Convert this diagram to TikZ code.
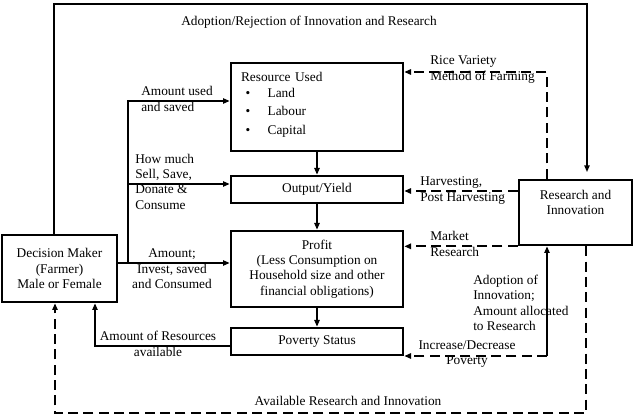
\documentclass[tikz,border=0pt]{standalone}
\usepackage{fontspec}
\setmainfont{Liberation Serif}
\usetikzlibrary{arrows.meta}
\begin{document}
\begin{tikzpicture}[x=0.75pt,y=-0.75pt,>={Triangle[length=5pt,width=4pt]},
  font=\fontsize{10}{11.5}\selectfont,
  box/.style={draw,line width=2pt,inner sep=0pt,align=center},
  lbl/.style={inner sep=0pt},
  link/.style={line width=1.1pt},
  dsh/.style={line width=1.3pt,dash pattern=on 7.5pt off 4pt}]
  \useasboundingbox (0,0) rectangle (640,416);
  % boxes
  \node[box,minimum width=86.25pt,minimum height=50.25pt] (dm) at (59.5,268.5) {Decision Maker\\(Farmer)\\Male or Female};
  \node[box,minimum width=129pt,minimum height=66pt,align=left,text width=114pt] (res) at (317,107)
    {Resource Used\\[0.5pt]
     \hspace*{3.5pt}\textbullet\hspace{13pt}Land\\[2.7pt]
     \hspace*{3.5pt}\textbullet\hspace{13pt}Labour\\[2.7pt]
     \hspace*{3.5pt}\textbullet\hspace{13pt}Capital\\[-6pt]~};
  \node[box,minimum width=129pt,minimum height=20.25pt] (out) at (317,189.5) {Output/Yield};
  \node[box,minimum width=129pt,minimum height=57pt] (prof) at (317,269) {Profit\\(Less Consumption on\\Household size and other\\financial obligations)};
  \node[box,minimum width=129pt,minimum height=20.25pt] (pov) at (317,341.5) {Poverty Status};
  \node[box,minimum width=84.75pt,minimum height=48.75pt] (ri) at (575.5,212.5) {Research and\\Innovation\\[4pt]~};
  % outer loop
  \coordinate (tl) at (54,4);
  \coordinate (tr) at (587,4);
  \draw[link,->,shorten >=5pt] (dm.north -| tl) -- (tl) -- (tr) -- (tr |- ri.north);
  \node[lbl] (tAdopt) at (309,22) {Adoption/Rejection of Innovation and Research};
  % farmer decisions
  \coordinate (jn) at (128,263);
  \coordinate (jt) at (128,101);
  \coordinate (jm) at (128,184);
  \draw[link,->] (dm.east |- jn) -- (prof.west |- jn);
  \draw[link,->] (jn) -- (jt) -- (res.west |- jt);
  \draw[link,->] (jm) -- (out.west |- jm);
  \node[lbl,anchor=west,align=left] (lUsed) at (141,99) {Amount used\\and saved};
  \node[lbl,anchor=west,align=left] (lSell) at (135,181.5) {How much\\Sell, Save,\\Donate \&\\Consume};
  \node[lbl,align=center] (lInvest) at (172,269) {Amount;\\Invest, saved\\and Consumed};
  % main chain
  \draw[link,->] (res) -- (out);
  \draw[link,->] (out) -- (prof);
  \draw[link,->] (prof) -- (pov);
  \coordinate (av) at (95,346);
  \draw[link,->] (pov.west |- av) -- (av) -- (av |- dm.south);
  \node[lbl,align=center] (lAvail) at (158,344) {Amount of Resources\\available};
  % bottom loop
  \coordinate (br) at (586,413);
  \coordinate (bl) at (55,413);
  \draw[dsh,->] (ri.south -| br) -- (br) -- (bl) -- (bl |- dm.south);
  \node[lbl] (lAvRI) at (348,401) {Available Research and Innovation};
  % research inputs
  \coordinate (rv) at (547,72);
  \draw[dsh,->] (ri.north -| rv) -- (rv) -- (res.east |- rv);
  \node[lbl,anchor=west,align=left] (lRice) at (430,69.5) {Rice Variety\\Method of Farming};
  \coordinate (hv) at (519,191);
  \draw[dsh,->] (ri.west |- hv) -- (out.east |- hv);
  \node[lbl,anchor=west,align=left] (lHarv) at (420,190.5) {Harvesting,\\Post Harvesting};
  \draw[dsh,->] (ri.south west) -- (prof.east |- ri.south west);
  \node[lbl,anchor=west,align=left] (lMkt) at (430,244) {Market\\Research};
  \coordinate (ad) at (547,356);
  \draw[link,->] (ad) -- (ad |- ri.south);
  \draw[dsh,->] (ad) -- (pov.east |- ad);
  \node[lbl,anchor=west,align=left] (lAdopt) at (473,303) {Adoption of\\Innovation;\\Amount allocated\\to Research};
  \node[lbl,align=center] (lPov) at (467,354) {Increase/Decrease\\Poverty};
\end{tikzpicture}
\end{document}
